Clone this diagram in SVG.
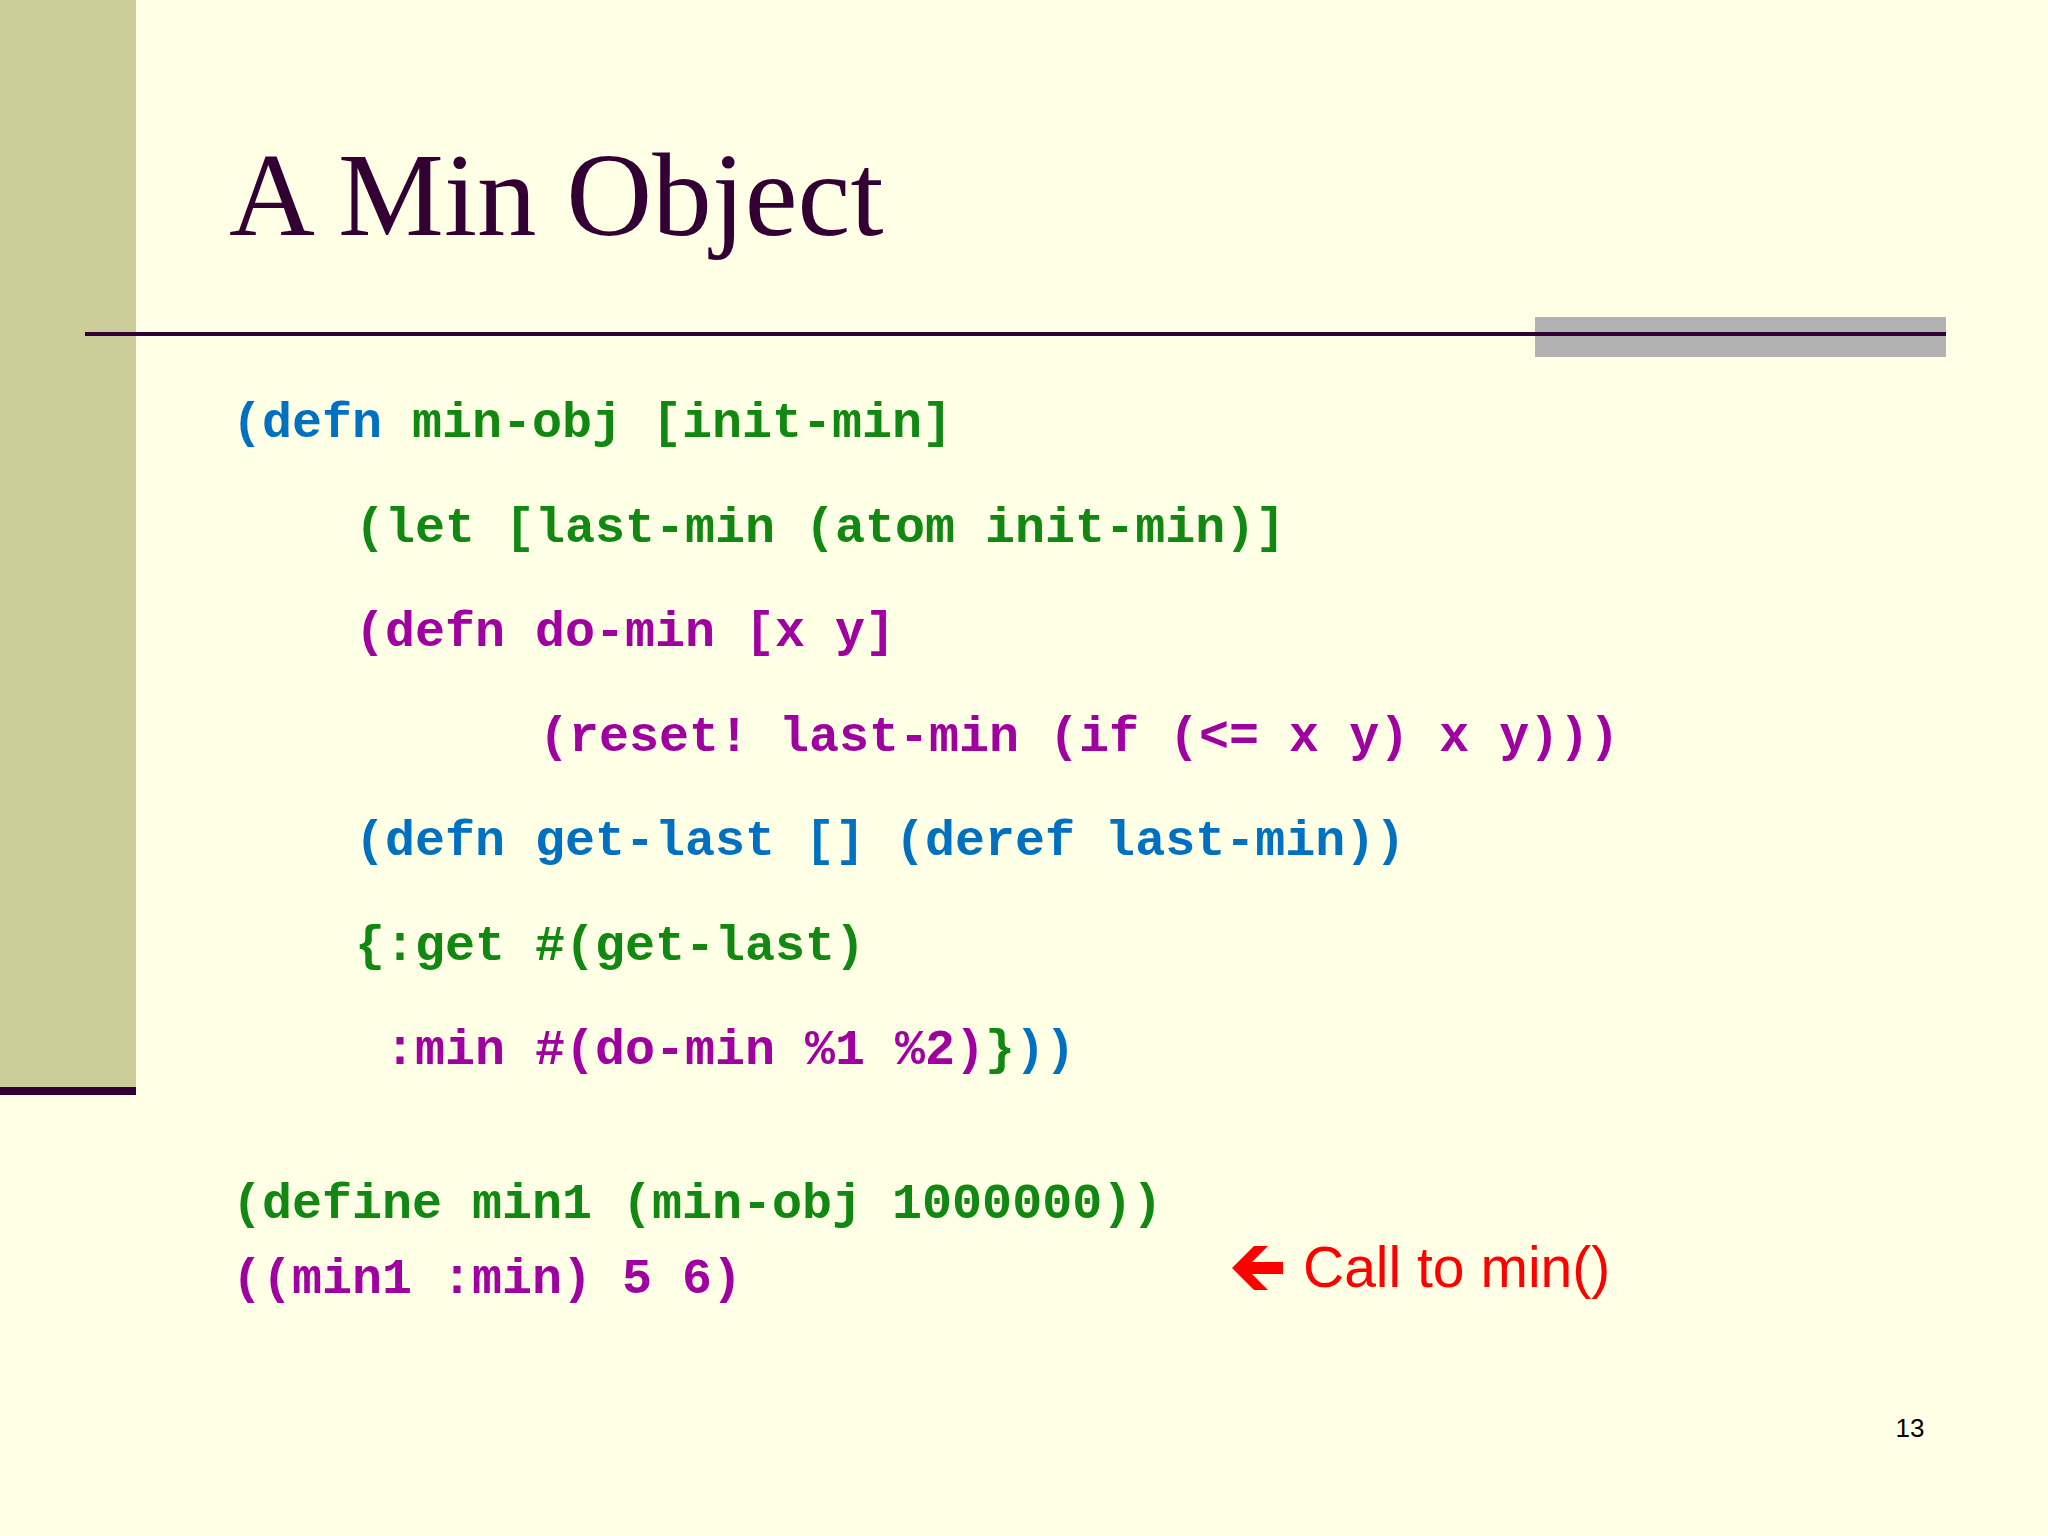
<svg xmlns="http://www.w3.org/2000/svg" width="2048" height="1536" viewBox="0 0 2048 1536">
<style>
.code{font-family:"Liberation Mono","Courier New",monospace;font-weight:bold;font-size:50px;white-space:pre}
.b{fill:#0070C0}.g{fill:#118811}.p{fill:#A000A0}
</style>
<rect width="2048" height="1536" fill="#FFFFE5"/>
<rect x="0" y="0" width="136" height="1090" fill="#CCCC99"/>
<rect x="0" y="1087" width="136" height="8" fill="#330033"/>
<rect x="1535" y="317" width="411" height="40" fill="#B2B2B2"/>
<rect x="85" y="332" width="1861" height="4" fill="#330033"/>
<text x="229" y="235" font-family="Liberation Serif,Times New Roman,serif" font-size="119" fill="#330033">A Min Object</text>
<g id="code">
<text class="code" x="232" y="437" xml:space="preserve"><tspan class="b">(defn </tspan><tspan class="g">min-obj [init-min]</tspan></text>
<text class="code g" x="355" y="542" xml:space="preserve">(let [last-min (atom init-min)]</text>
<text class="code p" x="355" y="646" xml:space="preserve">(defn do-min [x y]</text>
<text class="code p" x="539" y="751" xml:space="preserve">(reset! last-min (if (&lt;= x y) x y)))</text>
<text class="code b" x="355" y="855" xml:space="preserve">(defn get-last [] (deref last-min))</text>
<text class="code g" x="355" y="960" xml:space="preserve">{:get #(get-last)</text>
<text class="code" x="355" y="1064" xml:space="preserve"><tspan class="p"> :min #(do-min %1 %2)</tspan><tspan class="g">}</tspan><tspan class="b">))</tspan></text>
<text class="code g" x="232" y="1218" xml:space="preserve">(define min1 (min-obj 1000000))</text>
<text class="code p" x="232" y="1293" xml:space="preserve">((min1 :min) 5 6)</text>
</g>
<g id="callout">
<polygon points="1232,1268 1254,1246 1268,1246 1252,1262 1283,1262 1283,1274 1252,1274 1268,1290 1254,1290" fill="#FF0000"/>
<text x="1303" y="1287" font-family="Liberation Sans,Arial,sans-serif" font-size="57" fill="#FF0000">Call to min()</text>
</g>
<text x="1910" y="1437" text-anchor="middle" font-family="Liberation Sans,Arial,sans-serif" font-size="26" fill="#000">13</text>
</svg>
